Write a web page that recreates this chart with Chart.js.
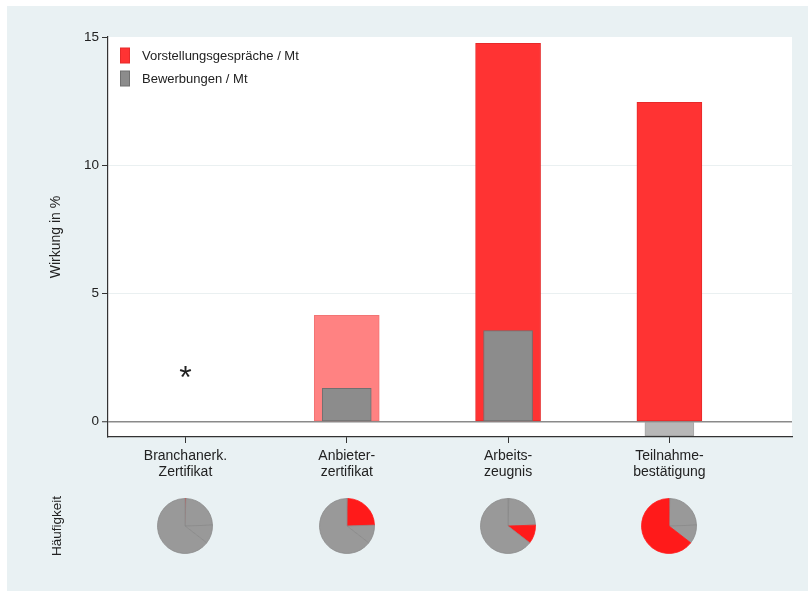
<!DOCTYPE html>
<html><head><meta charset="utf-8">
<script src="https://cdn.jsdelivr.net/npm/chart.js@4"></script>
<style>
html,body{margin:0;padding:0;background:#fff;}
#wrap{position:relative;width:808px;height:591px;overflow:hidden;}
#main{position:absolute;left:0;top:0;}
.pie{position:absolute;}
</style></head><body>
<div id="wrap">
<canvas id="main" width="808" height="591"></canvas>
<canvas class="pie" id="p0" width="64" height="64"></canvas>
<canvas class="pie" id="p1" width="64" height="64"></canvas>
<canvas class="pie" id="p2" width="64" height="64"></canvas>
<canvas class="pie" id="p3" width="64" height="64"></canvas>
</div>
<script>
// ---- data ----
const categories = [["Branchanerk.", "Zertifikat"], ["Anbieter-", "zertifikat"], ["Arbeits-", "zeugnis"], ["Teilnahme-", "bestätigung"]];
const interviews = [null, 4.15, 14.75, 12.45];          // Vorstellungsgespräche / Mt
const applications = [null, 1.3, 3.55, -0.55];          // Bewerbungen / Mt
const interviewsSignificant = [false, false, true, true];
const applicationsSignificant = [false, true, true, false];
const noEstimate = [1.9, null, null, null];              // asterisk marker value
const frequencyShare = [0.5, 24, 11, 64.5];              // Häufigkeit (%)
const yTicks = [0, 5, 10, 15];
const seriesLabels = ["Vorstellungsgespräche / Mt", "Bewerbungen / Mt"];

// ---- styles ----
const FONT = "'Liberation Sans', Arial, Helvetica, sans-serif";
Chart.defaults.font.family = FONT;
Chart.defaults.font.size = 13;
Chart.defaults.color = '#222';

const RED = '#ff3333', RED_B = '#e62a2a', PINK = '#ff8282', PINK_B = '#f27474';
const GRAY = '#8c8c8c', GRAY_B = '#707070', LGRAY = '#b7b7b7', LGRAY_B = '#a6a6a6';
const BG = '#e9f1f3';

const xs = categories.map((_, i) => i + 1);

const bgPlugin = {
  id: 'bg',
  beforeDraw(chart) {
    const {ctx, chartArea: a} = chart;
    ctx.save();
    ctx.fillStyle = '#ffffff';
    ctx.fillRect(0, 0, chart.width, chart.height);
    ctx.fillStyle = BG;
    ctx.fillRect(7, 6, chart.width - 7, chart.height - 6);
    ctx.fillStyle = '#ffffff';
    ctx.fillRect(a.left, a.top, a.right - a.left, a.bottom - a.top);
    ctx.restore();
  }
};

const overlayPlugin = {
  id: 'overlay',
  afterDraw(chart) {
    const {ctx, chartArea: a} = chart;
    const xS = chart.scales.x, yS = chart.scales.y;
    ctx.save();
    // legend
    const items = [{c: RED, b: RED_B, t: seriesLabels[0]}, {c: GRAY, b: GRAY_B, t: seriesLabels[1]}];
    ctx.font = '13px ' + FONT;
    ctx.textBaseline = 'middle';
    ctx.textAlign = 'left';
    items.forEach((it, k) => {
      const y = a.top + 11 + k * 23;
      ctx.fillStyle = it.c;
      ctx.fillRect(a.left + 12.5, y, 9, 15);
      ctx.strokeStyle = it.b; ctx.lineWidth = 1;
      ctx.strokeRect(a.left + 12.5, y, 9, 15);
      ctx.fillStyle = '#222';
      ctx.fillText(it.t, a.left + 34, y + 8);
    });
    // asterisk for missing estimate
    ctx.font = '32px ' + FONT;
    ctx.textAlign = 'center';
    ctx.textBaseline = 'alphabetic';
    noEstimate.forEach((v, i) => {
      if (v === null) return;
      ctx.fillStyle = '#222';
      ctx.fillText('*', xS.getPixelForValue(xs[i]), yS.getPixelForValue(v) + 15);
    });
    // Häufigkeit title
    ctx.font = '13.5px ' + FONT;
    ctx.translate(57, 526);
    ctx.rotate(-Math.PI / 2);
    ctx.textAlign = 'center';
    ctx.textBaseline = 'middle';
    ctx.fillText('Häufigkeit', 0, 0);
    ctx.restore();
  }
};

const main = new Chart(document.getElementById('main'), {
  type: 'bar',
  data: {
    datasets: [
      {
        label: seriesLabels[0],
        data: xs.map((x, i) => ({x, y: interviews[i]})),
        order: 2, grouped: false, barThickness: 65,
        backgroundColor: interviewsSignificant.map(s => s ? RED : PINK),
        borderColor: interviewsSignificant.map(s => s ? RED_B : PINK_B),
        borderWidth: 1, borderSkipped: false
      },
      {
        label: seriesLabels[1],
        data: xs.map((x, i) => ({x, y: applications[i]})),
        order: 1, grouped: false, barThickness: 49,
        backgroundColor: applicationsSignificant.map(s => s ? GRAY : LGRAY),
        borderColor: applicationsSignificant.map(s => s ? GRAY_B : LGRAY_B),
        borderWidth: 1, borderSkipped: false
      }
    ]
  },
  options: {
    responsive: false, animation: false, devicePixelRatio: 1,
    layout: {padding: {left: 30, top: 37, right: 16, bottom: 104}},
    plugins: {legend: {display: false}, tooltip: {enabled: false}},
    scales: {
      x: {
        type: 'linear', min: 0.52, max: 4.76, offset: false,
        afterBuildTicks: s => { s.ticks = xs.map(v => ({value: v})); },
        ticks: {callback: v => categories[v - 1], color: '#222', padding: 5, maxRotation: 0, autoSkip: false, font: {size: 14, lineHeight: 1.15}},
        grid: {offset: false, drawOnChartArea: false, tickLength: 6, color: '#333', tickColor: '#333', tickWidth: 1},
        border: {color: '#333', width: 1.2},
        afterFit: s => { s.height = 50; }
      },
      y: {
        min: -0.6, max: 15,
        afterBuildTicks: s => { s.ticks = yTicks.map(v => ({value: v})); },
        ticks: {padding: 3, color: '#222', font: {size: 13.5}},
        grid: {
          color: c => c.tick.value === 0 ? '#8a8a8a' : (c.tick.value === 15 ? 'rgba(0,0,0,0)' : '#eaf0f1'),
          lineWidth: c => c.tick.value === 0 ? 1.5 : 1,
          tickColor: '#333', tickLength: 6, tickWidth: 1
        },
        border: {color: '#333', width: 1.2},
        title: {display: true, text: 'Wirkung in %', padding: {top: 18, bottom: 0}, font: {size: 14}, color: '#222'},
        afterFit: s => { s.width = 78; }
      }
    }
  },
  plugins: [bgPlugin, overlayPlugin]
});

// ---- frequency pies ----
const pieR = 27.5, pieCY = 525.5;
frequencyShare.forEach((_, i) => {
  const cv = document.getElementById('p' + i);
  const cx = main.scales.x.getPixelForValue(xs[i]);
  cv.style.left = (cx - 32) + 'px';
  cv.style.top = (pieCY - 32) + 'px';
  new Chart(cv, {
    type: 'pie',
    data: {
      labels: categories.map(c => c.join(' ')),
      datasets: [{
        data: frequencyShare,
        backgroundColor: frequencyShare.map((_, k) => k === i ? '#ff1a1a' : '#999999'),
        borderColor: frequencyShare.map((_, k) => k === i ? '#ff1a1a' : '#8a8a8a'),
        borderWidth: 0.8
      }]
    },
    options: {
      responsive: false, animation: false, devicePixelRatio: 1,
      radius: pieR,
      layout: {padding: 0},
      plugins: {legend: {display: false}, tooltip: {enabled: false}}
    }
  });
});
</script>
</body></html>
